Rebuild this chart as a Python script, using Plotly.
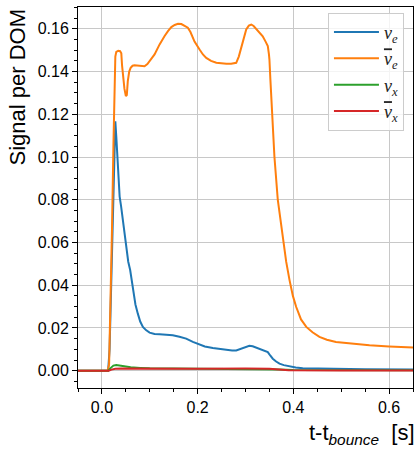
import plotly.graph_objects as go

# nu_e
t_nue = [-0.05, 0.013, 0.016, 0.019, 0.022, 0.025, 0.027, 0.028, 0.030, 0.032, 0.0334, 0.035, 0.037,
         0.040, 0.043, 0.047, 0.051, 0.055, 0.059, 0.062, 0.066, 0.070, 0.075, 0.080, 0.0856, 0.092,
         0.0996, 0.11, 0.1205, 0.135, 0.148, 0.162, 0.176, 0.19, 0.204, 0.215, 0.2317, 0.246, 0.26,
         0.272, 0.2806, 0.288, 0.294, 0.301, 0.308, 0.315, 0.322, 0.33, 0.34, 0.3466, 0.352, 0.357,
         0.364, 0.371, 0.38, 0.392, 0.405, 0.4196, 0.45, 0.496, 0.55, 0.65]
nue = [0.0, 0.0, 0.01, 0.035, 0.065, 0.092, 0.11, 0.1167, 0.1096, 0.1, 0.094, 0.087, 0.0815,
       0.077, 0.0715, 0.064, 0.0555, 0.051, 0.0471, 0.042, 0.0361, 0.031, 0.0267, 0.023, 0.0205, 0.019,
       0.0178, 0.0172, 0.017, 0.0168, 0.0166, 0.0159, 0.015, 0.0135, 0.0122, 0.0113, 0.0106, 0.0101, 0.0098,
       0.0095, 0.0095, 0.0101, 0.0108, 0.0115, 0.0117, 0.0114, 0.0108, 0.0102, 0.0095, 0.0087, 0.007, 0.0056,
       0.0043, 0.0033, 0.0026, 0.002, 0.0015, 0.0012, 0.001, 0.0008, 0.0007, 0.0006]

# anti nu_e
t_nuebar = [-0.05, 0.012, 0.015, 0.018, 0.021, 0.024, 0.026, 0.027, 0.028, 0.030, 0.034, 0.038, 0.0405,
            0.042, 0.044, 0.047, 0.050, 0.052, 0.054, 0.057, 0.060, 0.064, 0.068, 0.075, 0.082, 0.089,
            0.095, 0.0996, 0.105, 0.110, 0.1205, 0.124, 0.131, 0.138, 0.145, 0.152, 0.159, 0.166, 0.173,
            0.1795, 0.185, 0.19, 0.1935, 0.204, 0.211, 0.218, 0.228, 0.239, 0.25, 0.26, 0.27, 0.2806,
            0.286, 0.291, 0.296, 0.3015, 0.307, 0.312, 0.317, 0.322, 0.329, 0.336, 0.342, 0.3466, 0.349,
            0.350, 0.352, 0.3557, 0.3605, 0.3675, 0.378, 0.385, 0.392, 0.399, 0.406, 0.416, 0.427, 0.44,
            0.4545, 0.47, 0.489, 0.52, 0.559, 0.60, 0.65]
nuebar = [0.0, 0.0, 0.003, 0.03, 0.066, 0.105, 0.13, 0.1425, 0.147, 0.1492, 0.1497, 0.1495, 0.1485,
          0.143, 0.1378, 0.132, 0.1285, 0.129, 0.1354, 0.140, 0.1417, 0.1427, 0.1429, 0.1428, 0.1425, 0.1425,
          0.1435, 0.1448, 0.1465, 0.148, 0.1527, 0.1542, 0.1566, 0.1589, 0.1608, 0.1618, 0.1623, 0.1622, 0.1615,
          0.1605, 0.1585, 0.1558, 0.154, 0.1503, 0.148, 0.1464, 0.145, 0.1441, 0.1437, 0.1436, 0.1437, 0.1441,
          0.147, 0.1511, 0.1555, 0.1597, 0.1615, 0.162, 0.1613, 0.160, 0.1585, 0.1565, 0.154, 0.1519, 0.148,
          0.1456, 0.1362, 0.1206, 0.100, 0.0799, 0.0611, 0.051, 0.0424, 0.035, 0.0298, 0.024, 0.0205, 0.018,
          0.0158, 0.0145, 0.0134, 0.0126, 0.0119, 0.0113, 0.0108]

# nu_x
t_nux = [-0.05, 0.013, 0.018, 0.024, 0.03, 0.036, 0.045, 0.06, 0.08, 0.1, 0.15, 0.2, 0.3, 0.35, 0.37,
         0.4, 0.5, 0.65]
nux = [0.0, 0.0, 0.0012, 0.0024, 0.0027, 0.0025, 0.0021, 0.0016, 0.0013, 0.0011, 0.001, 0.0009, 0.0009,
       0.0008, 0.0005, 0.0003, 0.0002, 0.0002]

# anti nu_x
t_nuxbar = [-0.05, 0.014, 0.02, 0.028, 0.04, 0.1, 0.2, 0.3, 0.35, 0.37, 0.39, 0.5, 0.65]
nuxbar = [0.0, 0.0, 0.0005, 0.0009, 0.001, 0.0009, 0.0009, 0.001, 0.0009, 0.0005, 0.0002, 0.0001, 0.0001]

series = [
    ("<i>ν</i><sub><i>e</i></sub>", t_nue, nue, "#1f77b4"),
    ("<i><span style='text-decoration:overline'>ν</span></i><sub><i>e</i></sub>", t_nuebar, nuebar, "#ff7f0e"),
    ("<i>ν</i><sub><i>x</i></sub>", t_nux, nux, "#2ca02c"),
    ("<i><span style='text-decoration:overline'>ν</span></i><sub><i>x</i></sub>", t_nuxbar, nuxbar, "#d62728"),
]

FONT = "Liberation Sans"

fig = go.Figure()
for name, t, v, color in series:
    fig.add_trace(go.Scatter(x=t, y=v, name=name, mode="lines",
                             line=dict(color=color, width=2)))

axis_common = dict(
    showline=True, linecolor="black", linewidth=1, mirror=True,
    ticks="outside", ticklen=5, tickwidth=1, tickcolor="black",
    showgrid=True, gridcolor="#c8c8c8", gridwidth=1, zeroline=False,
    tickfont=dict(family=FONT, size=16, color="black"),
)
fig.update_xaxes(range=[-0.05, 0.65], tickvals=[0, 0.2, 0.4, 0.6], tickformat=".1f",
                 minor=dict(dtick=0.05, tick0=0, ticks="outside", ticklen=3, tickcolor="black",
                            showgrid=False),
                 **axis_common)
fig.update_yaxes(range=[-0.0081, 0.1702], tickvals=[i * 0.02 for i in range(9)], tickformat=".2f",
                 minor=dict(dtick=0.005, tick0=0, ticks="outside", ticklen=3, tickcolor="black",
                            showgrid=False),
                 **axis_common)

fig.add_annotation(text="Signal per DOM", xref="paper", yref="paper", x=0, y=1,
                   xanchor="center", yanchor="top", xshift=-61, textangle=-90, showarrow=False,
                   font=dict(family=FONT, size=22, color="black"))
fig.add_annotation(text="t-t<sub><i>bounce</i></sub>  [s]", xref="paper", yref="paper", x=1, y=0,
                   xanchor="right", yanchor="top", xshift=4, yshift=-30, showarrow=False,
                   font=dict(family=FONT, size=22, color="black"))

fig.update_layout(
    width=420, height=453, paper_bgcolor="white", plot_bgcolor="white",
    margin=dict(l=78, r=7, t=7, b=65),
    showlegend=True,
    legend=dict(x=0.973, y=0.985, xanchor="right", yanchor="top", itemwidth=45,
                bgcolor="rgba(255,255,255,0.8)", bordercolor="#cccccc", borderwidth=1,
                font=dict(family="Liberation Serif", size=18, color="#222222")),
)

fig.write_html("out.html", config={"displayModeBar": False},
               post_script="document.body.style.margin='0';")
